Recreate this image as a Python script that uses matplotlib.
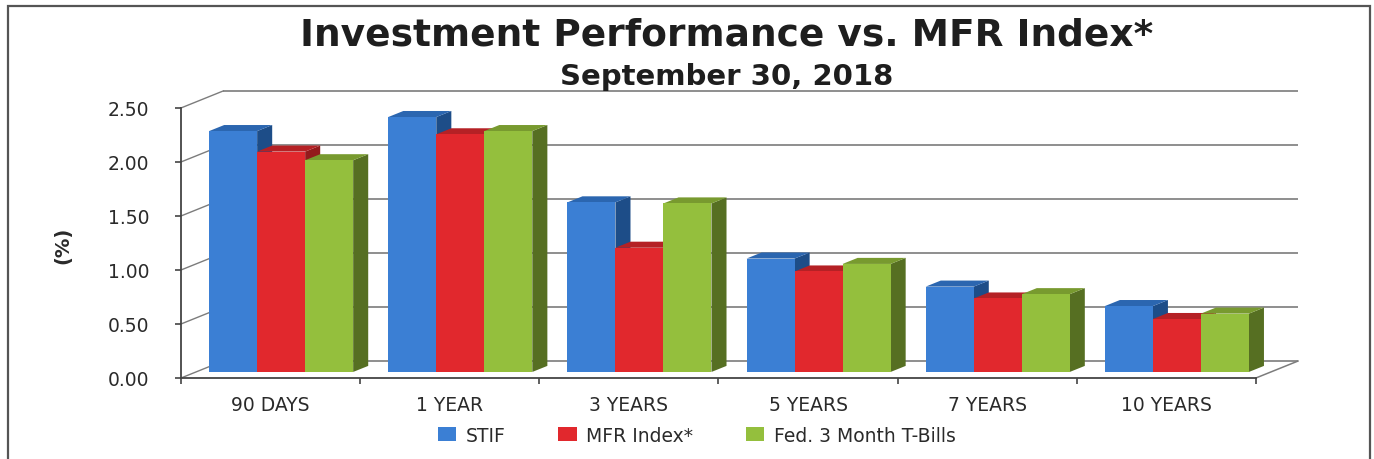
import numpy as np
import matplotlib
matplotlib.use("Agg")
import matplotlib.pyplot as plt
from matplotlib.patches import Polygon, Rectangle

# ---------------- data ----------------
categories = ["90 DAYS", "1 YEAR", "3 YEARS", "5 YEARS", "7 YEARS", "10 YEARS"]
series_names = ["STIF", "MFR Index*", "Fed. 3 Month T-Bills"]
stif = [2.23, 2.36, 1.57, 1.05, 0.79, 0.61]
mfr_index = [2.04, 2.20, 1.15, 0.93, 0.68, 0.49]
tbills = [1.96, 2.23, 1.56, 1.00, 0.72, 0.54]
y_ticks = [0.0, 0.5, 1.0, 1.5, 2.0, 2.5]
title = "Investment Performance vs. MFR Index*"
subtitle = "September 30, 2018"

# ---------------- style ----------------
front_colors = ["#3b7fd4", "#e1282d", "#94bf3d"]
top_colors = ["#2b66b0", "#b52125", "#789a2f"]
side_colors = ["#1d4d88", "#931a1c", "#566f22"]
grid_color = "#7c7c7c"
axis_color = "#444444"
text_color = "#2a2a2a"

plt.rcParams["font.family"] = ["DejaVu Sans"]

W, H = 1374, 460
fig = plt.figure(figsize=(W / 100, H / 100), dpi=100)

# depth offsets (data units) for the pseudo-3D look
wdx, wdy = 0.235, 0.157      # wall depth
bdx, bdy = 0.084, 0.056      # bar front offset into depth
ddx, ddy = 0.084, 0.056      # bar depth
bar_w = 0.268

ax = fig.add_axes([181 / W, (H - 379) / H, 1117 / W, 287 / H])
ax.set_xlim(-0.5, len(categories) - 0.5 + wdx)
ax.set_ylim(0, y_ticks[-1] + wdy)

# back wall gridlines + left wall diagonals
xl, xr = -0.5, len(categories) - 0.5
for t in y_ticks:
    ax.plot([xl + wdx, xr + wdx], [t + wdy, t + wdy], color=grid_color, lw=1.2,
            zorder=1, clip_on=False, solid_capstyle="butt")
    ax.plot([xl, xl + wdx], [t, t + wdy], color=grid_color, lw=1.0, zorder=1, clip_on=False)
# floor right edge
ax.plot([xr, xr + wdx], [0, wdy], color=grid_color, lw=1.1, zorder=1, clip_on=False)

# bars
x = np.arange(len(categories))
group_center = x - 0.025 + bdx
all_series = [stif, mfr_index, tbills]
handles = []
for k, vals in enumerate(all_series):
    xc = group_center + (k - 1) * bar_w
    bars = ax.bar(xc, vals, width=bar_w, bottom=bdy, color=front_colors[k],
                  edgecolor="none", label=series_names[k])
    handles.append(bars)
    for i, (b, v) in enumerate(zip(bars, vals)):
        z = 10 + i * 10 + k * 3
        x0, x1 = xc[i] - bar_w / 2, xc[i] + bar_w / 2
        base, top = bdy, v + bdy
        side = Polygon([(x1, base), (x1 + ddx, base + ddy), (x1 + ddx, top + ddy), (x1, top)],
                       closed=True, facecolor=side_colors[k], edgecolor="none", zorder=z)
        topf = Polygon([(x0, top), (x0 + ddx, top + ddy), (x1 + ddx, top + ddy), (x1, top)],
                       closed=True, facecolor=top_colors[k], edgecolor="none", zorder=z + 1)
        ax.add_patch(side)
        ax.add_patch(topf)
        b.set_zorder(z + 2)

# axes
for s in ["top", "right"]:
    ax.spines[s].set_visible(False)
ax.spines["left"].set_bounds(0, y_ticks[-1])
ax.spines["bottom"].set_bounds(xl, xr)
for s in ["left", "bottom"]:
    ax.spines[s].set_color(axis_color)
    ax.spines[s].set_linewidth(1.3)

ax.set_yticks(y_ticks)
ax.set_yticklabels([f"{t:.2f}" for t in y_ticks])
ax.tick_params(axis="y", length=4, width=1.2, color=axis_color, pad=19,
               labelsize=13.5, labelcolor=text_color)

ax.set_xticks(np.arange(xl, xr + 0.01, 1.0))
ax.set_xticklabels([])
ax.set_xticks(x, minor=True)
ax.set_xticklabels(categories, minor=True)
ax.tick_params(axis="x", which="major", length=4, width=1.2, color=axis_color)
ax.tick_params(axis="x", which="minor", length=0, pad=12, labelsize=13.5,
               labelcolor=text_color)

ax.set_ylabel("(%)", fontsize=14, fontweight="bold", color=text_color)
ax.yaxis.set_label_coords(-0.0976, 0.467)

# titles
fig.text(0.529, 1 - 46 / H, title, ha="center", va="baseline", fontsize=27,
         fontweight="bold", color="#1e1e1e")
fig.text(0.529, 1 - 85 / H, subtitle, ha="center", va="baseline", fontsize=21,
         fontweight="bold", color="#1e1e1e")

# legend
leg = fig.legend(handles, series_names, loc="center", bbox_to_anchor=(0.507, 0.052),
                 ncol=3, frameon=False, fontsize=13.5, handlelength=1.0,
                 handleheight=0.8, handletextpad=0.5, columnspacing=2.8)
for t in leg.get_texts():
    t.set_color(text_color)

# outer border
fig.patches.append(Rectangle((8 / W, -0.1), (1370 - 8) / W, 1.1 - 7 / H,
                             transform=fig.transFigure, fill=False,
                             edgecolor="#555555", lw=1.6, clip_on=False))

fig.savefig("out.png", dpi=100)
